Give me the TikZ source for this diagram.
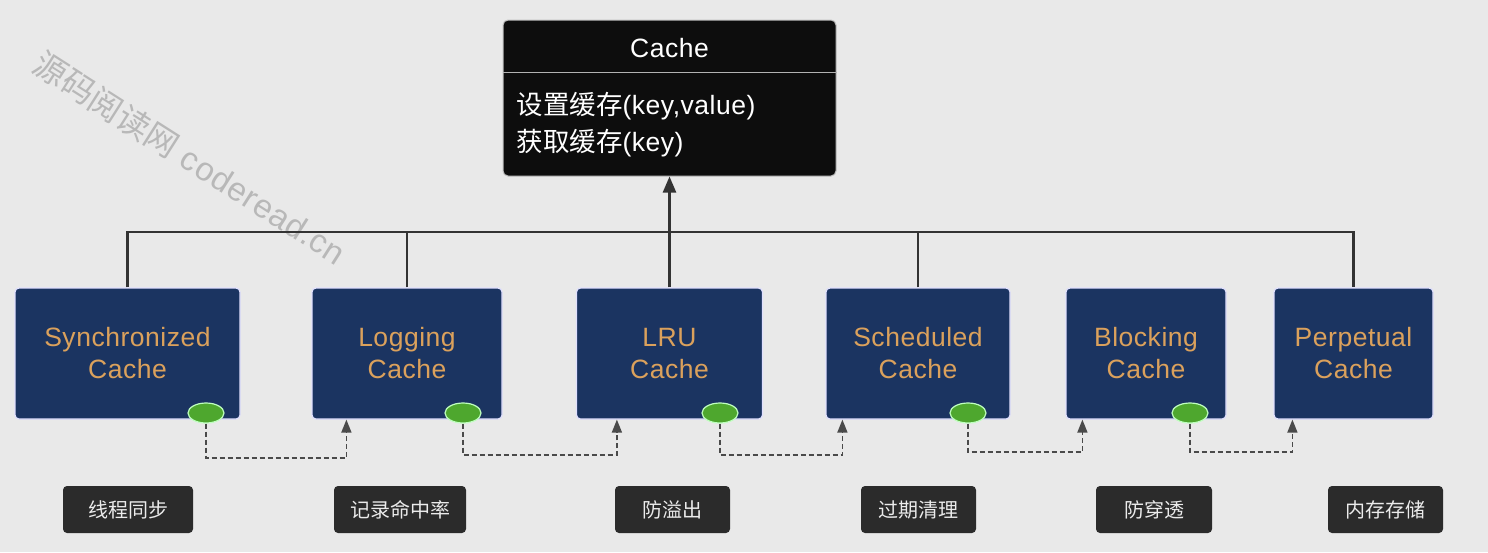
\documentclass[tikz,border=0pt]{standalone}
\usepackage{fontspec}
\setmainfont[LetterSpace=2]{Liberation Sans}
\newfontfamily\cjk{Noto Sans CJK SC}
\usetikzlibrary{shapes.geometric,arrows.meta}
\definecolor{bgc}{HTML}{E9E9E9}
\definecolor{cacheblk}{HTML}{0D0D0D}
\definecolor{navy}{HTML}{1B3461}
\definecolor{orangetxt}{HTML}{DBA15C}
\definecolor{greendot}{HTML}{4EA72E}
\definecolor{tagdark}{HTML}{2B2B2B}
\definecolor{linedark}{HTML}{333333}
\definecolor{dashgray}{HTML}{4A4A4A}
\definecolor{wmark}{HTML}{B8B8B8}
\begin{document}
\begin{tikzpicture}[x=1pt,y=-1pt,
  cachebox/.style={draw=white!75!black, line width=1pt, fill=cacheblk, rounded corners=5pt,
    minimum width=333pt, minimum height=156pt, inner sep=0pt},
  implbox/.style={draw=white!88!blue, line width=1.2pt, fill=navy, rounded corners=4pt,
    minimum height=131pt, inner sep=0pt, text=orangetxt, align=center,
    font=\fontsize{26.5}{32}\selectfont},
  gdot/.style={ellipse, fill=greendot, draw=green!25!white, line width=1.2pt,
    minimum width=36pt, minimum height=20pt, inner sep=0pt},
  tagbox/.style={fill=tagdark, rounded corners=4pt, minimum height=47pt, inner sep=0pt,
    text=white!92!black, font=\cjk\fontsize{20}{20}\selectfont},
  busline/.style={draw=linedark, line width=2.4pt},
  dconn/.style={draw=dashgray, dash pattern=on 5pt off 3pt, line width=1.5pt,
    -{Triangle[length=13pt,width=10pt]}}
]
\useasboundingbox (0,0) rectangle (1488,552);
\fill[bgc] (0,0) rectangle (1488,552);

% watermark
\node[text=wmark, rotate=-32.5, font=\fontsize{33}{33}\selectfont] (wm) at (190,158)
  {{\cjk 源码阅读网} coderead.cn};

% Cache
\node[cachebox] (cache) at (669.5,98) {};
\draw[white!70!black, line width=1.2pt] ([yshift=-53pt]cache.north west) -- ([yshift=-53pt]cache.north east);
\node[text=white, font=\fontsize{26.5}{26.5}\selectfont] (ctitle) at (669.5,48) {Cache};
\node[text=white, anchor=west, align=left, font=\fontsize{26.5}{37}\selectfont] (cbody) at (513,124.5)
  {{\cjk 设置缓存}(key,value)\\{\cjk 获取缓存}(key)};

% implementations
\node[implbox, minimum width=225pt] (sync) at (127.5,353.5) {Synchronized\\Cache};
\node[implbox, minimum width=190pt] (logc) at (407,353.5) {Logging\\Cache};
\node[implbox, minimum width=186pt] (lru) at (669.5,353.5) {LRU\\Cache};
\node[implbox, minimum width=184pt] (sched) at (918,353.5) {Scheduled\\Cache};
\node[implbox, minimum width=160pt] (block) at (1146,353.5) {Blocking\\Cache};
\node[implbox, minimum width=159pt] (perp) at (1353.5,353.5) {Perpetual\\Cache};

% bus
\coordinate (busy) at (0,232);
\draw[busline] (sync.north) -- (sync.north |- busy) -- (perp.north |- busy) -- (perp.north);
\draw[busline] (logc.north) -- (logc.north |- busy);
\draw[busline] (sched.north) -- (sched.north |- busy);
\draw[busline] (lru.north) -- (lru.north |- busy);
\draw[busline, -{Triangle[length=16pt,width=13pt]}] (cache.south |- busy) -- (cache.south);

% green dots
\node[gdot] (d1) at (206,413) {};
\node[gdot] (d2) at (463,413) {};
\node[gdot] (d3) at (720,413) {};
\node[gdot] (d4) at (968,413) {};
\node[gdot] (d5) at (1190,413) {};

% dashed connectors
\draw[dconn] (d1.south) -- (d1.south |- 0,458) -| ([xshift=35pt]logc.south west);
\draw[dconn] (d2.south) -- (d2.south |- 0,455) -| ([xshift=41pt]lru.south west);
\draw[dconn] (d3.south) -- (d3.south |- 0,455) -| ([xshift=17pt]sched.south west);
\draw[dconn] (d4.south) -- (d4.south |- 0,452) -| ([xshift=17pt]block.south west);
\draw[dconn] (d5.south) -- (d5.south |- 0,452) -| ([xshift=19pt]perp.south west);

% tags
\node[tagbox, minimum width=130pt] (t1) at (128,509.5) {线程同步};
\node[tagbox, minimum width=132pt] (t2) at (400,509.5) {记录命中率};
\node[tagbox, minimum width=115pt] (t3) at (672.5,509.5) {防溢出};
\node[tagbox, minimum width=115pt] (t4) at (918.5,509.5) {过期清理};
\node[tagbox, minimum width=116pt] (t5) at (1154,509.5) {防穿透};
\node[tagbox, minimum width=115pt] (t6) at (1385.5,509.5) {内存存储};
\end{tikzpicture}
\end{document}
